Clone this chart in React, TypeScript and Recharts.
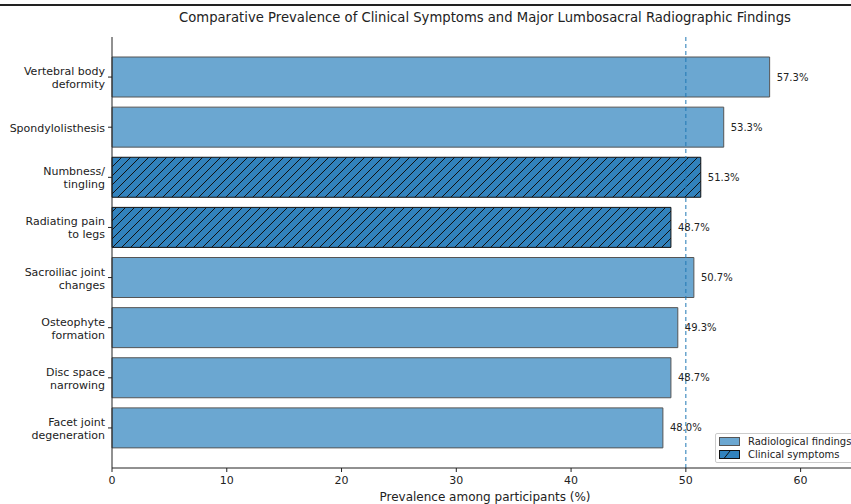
import { Bar, BarChart, Cell, LabelList, ReferenceLine, XAxis, YAxis } from 'recharts';

const categories = [
  'Vertebral body\ndeformity',
  'Spondylolisthesis',
  'Numbness/\ntingling',
  'Radiating pain\nto legs',
  'Sacroiliac joint\nchanges',
  'Osteophyte\nformation',
  'Disc space\nnarrowing',
  'Facet joint\ndegeneration',
];
const prevalence = [57.3, 53.3, 51.3, 48.7, 50.7, 49.3, 48.7, 48.0];
const groups = ['radio', 'radio', 'clinical', 'clinical', 'radio', 'radio', 'radio', 'radio'];
const xTicks = [0, 10, 20, 30, 40, 50, 60];
const refValue = 50;

const FONT = '"DejaVu Sans", sans-serif';
const RADIO_FILL = '#6ba7d1';
const CLIN_FILL = '#3182bd';

const chartData = categories.map((name, i) => ({
  name,
  value: prevalence[i],
  group: groups[i],
}));

const YTick = (props: any) => {
  const { x, y, payload } = props;
  const lines = String(payload.value).split('\n');
  const start = -((lines.length - 1) * 13) / 2;
  return (
    <text x={x - 1} y={y} textAnchor="end" fontSize={11} fontFamily={FONT} fill="#222">
      {lines.map((l, i) => (
        <tspan key={i} x={x - 1} y={y + 1 + start + i * 13} dominantBaseline="central">
          {l}
        </tspan>
      ))}
    </text>
  );
};

const ValueLabel = (props: any) => {
  const { x, y, width, height, value } = props;
  return (
    <text
      x={x + width + 7}
      y={y + height / 2}
      dominantBaseline="central"
      fontSize={10}
      fontFamily={FONT}
      fill="#222"
    >
      {`${Number(value).toFixed(1)}%`}
    </text>
  );
};

export default function App() {
  return (
    <div style={{ position: 'absolute', left: 0, top: 0, width: 851, height: 504, overflow: 'hidden', background: '#fff', fontFamily: FONT }}>
      <div style={{ position: 'absolute', left: 0, top: 4, width: 851, height: 2, background: '#222' }} />
      <div style={{ position: 'absolute', left: 112, width: 746, top: 10, textAlign: 'center', fontSize: 13.2, color: '#222', whiteSpace: 'nowrap' }}>
        Comparative Prevalence of Clinical Symptoms and Major Lumbosacral Radiographic Findings
      </div>
      <BarChart
        width={870}
        height={504}
        data={chartData}
        layout="vertical"
        margin={{ top: 37, right: 12, bottom: 0, left: 0 }}
        barCategoryGap={0}
      >
        <defs>
          <pattern id="hatch" patternUnits="userSpaceOnUse" width={9} height={9}>
            <rect width={9} height={9} fill={CLIN_FILL} />
            <path d="M-2,2 L2,-2 M0,9 L9,0 M7,11 L11,7" stroke="#111" strokeWidth={1} />
          </pattern>
        </defs>
        <XAxis
          type="number"
          domain={[0, 65]}
          ticks={xTicks}
          tickSize={4}
          tickMargin={4}
          height={36}
          axisLine={{ stroke: '#222' }}
          tickLine={{ stroke: '#222' }}
          tick={{ fontSize: 11, fontFamily: FONT, fill: '#222' }}
          label={{ value: 'Prevalence among participants (%)', position: 'insideBottom', offset: 3, fontSize: 12, fontFamily: FONT, fill: '#222' }}
        />
        <YAxis
          type="category"
          dataKey="name"
          width={112}
          tickSize={4}
          padding={{ top: 15, bottom: 15 }}
          axisLine={{ stroke: '#222' }}
          tickLine={{ stroke: '#222' }}
          tick={<YTick />}
          interval={0}
        />
        <ReferenceLine x={refValue} stroke="#1f77b4" strokeDasharray="4 3" strokeWidth={1} ifOverflow="visible" />
        <Bar dataKey="value" barSize={40} isAnimationActive={false}>
          {chartData.map((d, i) => (
            <Cell
              key={i}
              fill={d.group === 'clinical' ? 'url(#hatch)' : RADIO_FILL}
              stroke={d.group === 'clinical' ? '#111' : '#555'}
              strokeWidth={1}
            />
          ))}
          <LabelList dataKey="value" content={<ValueLabel />} />
        </Bar>
      </BarChart>
      <div
        style={{
          position: 'absolute',
          left: 715,
          top: 433,
          width: 145,
          height: 30,
          border: '1px solid #ccc',
          borderRadius: 2,
          background: 'rgba(255,255,255,0.85)',
          fontSize: 10,
          color: '#222',
          boxSizing: 'border-box',
          padding: '1px 3px',
          whiteSpace: 'nowrap',
        }}
      >
        <div style={{ display: 'flex', alignItems: 'center', height: 13 }}>
          <span style={{ display: 'inline-block', width: 19, height: 7, background: RADIO_FILL, border: '1px solid #555', marginRight: 8 }} />
          Radiological findings
        </div>
        <div style={{ display: 'flex', alignItems: 'center', height: 13 }}>
          <svg width={21} height={9} style={{ marginRight: 8 }}>
            <rect x={0.5} y={0.5} width={20} height={8} fill={CLIN_FILL} stroke="#111" />
            <path d="M5,8.5 L11,1" stroke="#111" strokeWidth={1} />
          </svg>
          Clinical symptoms
        </div>
      </div>
    </div>
  );
}
